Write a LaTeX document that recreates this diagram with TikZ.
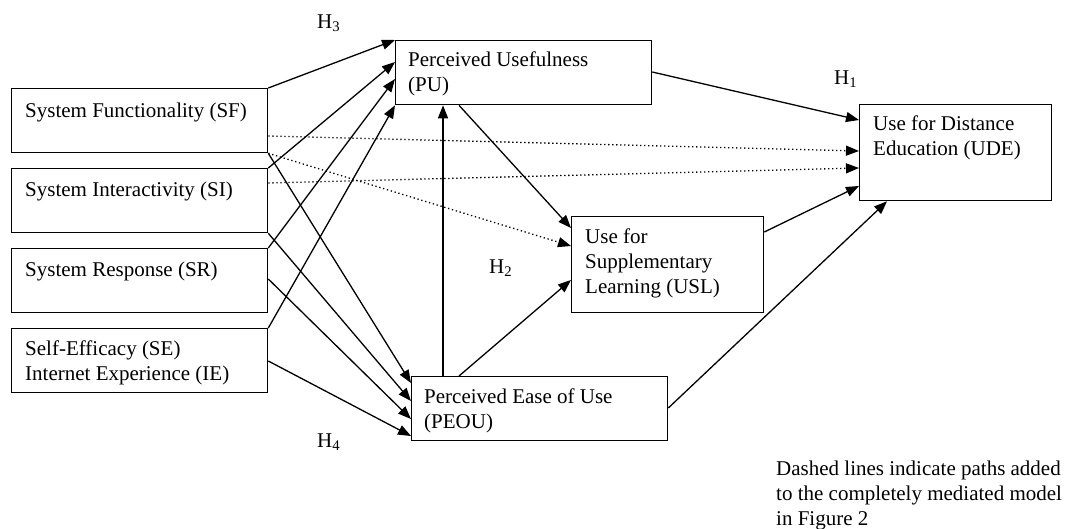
\documentclass[tikz,border=0pt]{standalone}
\usepackage{fontspec}
\setmainfont{Liberation Serif}
\usetikzlibrary{arrows.meta,calc}
\begin{document}
\begin{tikzpicture}[x=1pt,y=-1pt,
  box/.style={draw, line width=1.3pt, inner sep=0pt, anchor=north west},
  wbox/.style={box, minimum width=256pt, minimum height=64pt},
  txt/.style={anchor=base west, inner sep=0pt, font=\fontsize{21}{25}\selectfont},
  arr/.style={-{Triangle[length=13pt,width=10pt]}, line width=1.3pt},
  dotarr/.style={arr, dash pattern=on 1.3pt off 2.7pt}]
\useasboundingbox (0,0) rectangle (1068,528);
% boxes
\node[wbox] (sf) at (11,88) {};
\node[wbox] (si) at (11,168) {};
\node[wbox] (sr) at (11,248) {};
\node[wbox] (se) at (11,328) {};
\node[wbox] (pu) at (395,40) {};
\node[box, minimum width=192pt, minimum height=96pt] (usl) at (571,216) {};
\node[wbox] (peou) at (411,376) {};
\node[box, minimum width=192pt, minimum height=96pt] (ude) at (859,104) {};
% texts
\node[txt] (sft) at (25,117) {System Functionality (SF)};
\node[txt] (sit) at (25,196) {System Interactivity (SI)};
\node[txt] (srt) at (25,276) {System Response (SR)};
\node[txt] (set) at (25,355) {\begin{tabular}[t]{@{}l@{}}Self-Efficacy (SE)\\Internet Experience (IE)\end{tabular}};
\node[txt] (put) at (408,66) {\begin{tabular}[t]{@{}l@{}}Perceived Usefulness\\(PU)\end{tabular}};
\node[txt] (uslt) at (585,243) {\begin{tabular}[t]{@{}l@{}}Use for\\Supplementary\\Learning (USL)\end{tabular}};
\node[txt] (peout) at (424,403) {\begin{tabular}[t]{@{}l@{}}Perceived Ease of Use\\(PEOU)\end{tabular}};
\node[txt] (udet) at (873,130) {\begin{tabular}[t]{@{}l@{}}Use for Distance\\Education (UDE)\end{tabular}};
% hypothesis labels
\node[txt] (h3) at (317,28) {H\textsubscript{3}};
\node[txt] (h1) at (834,84) {H\textsubscript{1}};
\node[txt] (h2) at (489,273) {H\textsubscript{2}};
\node[txt] (h4) at (317,447) {H\textsubscript{4}};
% note
\node[txt] (note) at (776,475) {\begin{tabular}[t]{@{}l@{}}Dashed lines indicate paths added\\to the completely mediated model\\in Figure 2\end{tabular}};
% arrows to PU
\draw[arr] (sf.north east) -- (pu.north west);
\draw[arr] (si.north east) -- ($(pu.north west)+(0,22)$);
\draw[arr] (sr.north east) -- ($(pu.north west)+(0,39)$);
\draw[arr] (se.north east) -- (pu.south west);
% arrows to PEOU
\draw[arr] (sf.south east) -- ($(peou.north west)+(0,7)$);
\draw[arr] (si.south east) -- ($(peou.north west)+(0,25)$);
\draw[arr] ($(sr.north east)+(0,31)$) -- ($(peou.north west)+(0,43)$);
\draw[arr] ($(se.north east)+(0,33)$) -- ($(peou.north west)+(0,60)$);
% central arrows
\draw[arr] ($(peou.north west)+(32,0)$) -- ($(pu.south west)+(48,0)$);
\draw[arr] ($(pu.south west)+(64,0)$) -- ($(usl.north west)+(0,12)$);
\draw[arr] ($(peou.north west)+(48,0)$) -- ($(usl.north west)+(0,64)$);
\draw[arr] ($(pu.north east)+(0,32)$) -- ($(ude.north west)+(0,16)$);
\draw[arr] ($(usl.north east)+(0,16)$) -- ($(ude.north west)+(0,82)$);
\draw[arr] ($(peou.north east)+(0,32)$) -- ($(ude.south west)+(28,0)$);
% dotted
\draw[dotarr] ($(sf.north east)+(0,48)$) -- ($(ude.north west)+(0,47)$);
\draw[dotarr] ($(si.north east)+(0,15)$) -- ($(ude.north west)+(0,64)$);
\draw[dotarr] (sf.south east) -- ($(usl.north west)+(0,30)$);
\end{tikzpicture}
\end{document}
